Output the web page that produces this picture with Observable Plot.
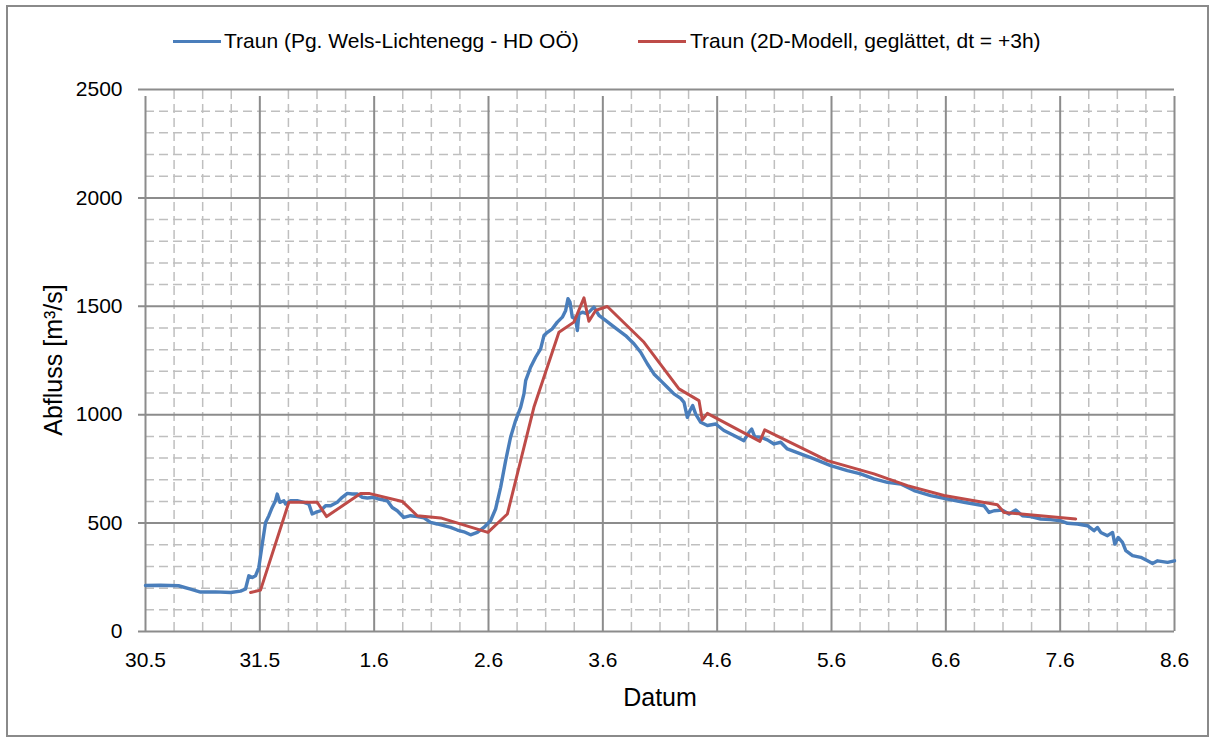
<!DOCTYPE html>
<html>
<head>
<meta charset="utf-8">
<script src="https://cdn.jsdelivr.net/npm/d3@7"></script>
<script src="https://cdn.jsdelivr.net/npm/@observablehq/plot@0.6"></script>
<style>
  html, body { margin: 0; padding: 0; background: #fff; }
  #wrap { position: relative; width: 1213px; height: 740px; font-family: "Liberation Sans", Arial, sans-serif; color: #000; overflow: hidden; }
  #frame { position: absolute; left: 6px; top: 5px; width: 1199px; height: 728px; border: 2px solid #8a8a8a; }
  .lg-line { position: absolute; height: 3px; width: 48px; }
  .lg-text { position: absolute; font-size: 21px; line-height: 24px; white-space: nowrap; }
  #chart { position: absolute; left: 0; top: 70px; }
  #chart svg text { font-family: "Liberation Sans", Arial, sans-serif; font-size: 21px; fill: #000; }
  .title { position: absolute; font-size: 25px; white-space: nowrap; transform: translate(-50%, -50%); }
  #ytitle { left: 53px; top: 360px; transform: translate(-50%, -50%) rotate(-90deg); }
  #xtitle { left: 660px; top: 697px; }
</style>
</head>
<body>
<div id="wrap">
  <div id="frame"></div>
  <div class="lg-line" style="left:173px; top:40px; background:#4a7ebb;"></div>
  <div class="lg-text" id="lg1" style="left:224px; top:29px;"></div>
  <div class="lg-line" style="left:638px; top:40px; background:#be4b48;"></div>
  <div class="lg-text" id="lg2" style="left:690px; top:29px;"></div>
  <div id="chart"></div>
  <div class="title" id="ytitle"></div>
  <div class="title" id="xtitle"></div>
</div>
<script>
// ---- Texts ----
const seriesNames = ["Traun (Pg. Wels-Lichtenegg - HD OÖ)", "Traun (2D-Modell, geglättet, dt = +3h)"];
const yTitle = "Abfluss [m³/s]";
const xTitle = "Datum";

// ---- Tick labels (x = days since 30.5 00:00) ----
const dayLabels = ["30.5", "31.5", "1.6", "2.6", "3.6", "4.6", "5.6", "6.6", "7.6", "8.6"];
const yTicks = [0, 500, 1000, 1500, 2000, 2500];

// ---- Measured series (blue) ----
const messDay = [0.000,0.131,0.289,0.394,0.481,0.612,0.744,0.831,0.875,0.904,
  0.934,0.962,0.991,1.021,1.050,1.079,1.108,1.137,1.152,1.175,
  1.210,1.225,1.269,1.327,1.385,1.429,1.458,1.487,1.531,1.575,
  1.619,1.677,1.721,1.765,1.808,1.852,1.896,1.940,1.997,2.041,
  2.115,2.158,2.202,2.260,2.318,2.377,2.435,2.493,2.552,2.610,
  2.668,2.727,2.785,2.843,2.902,2.960,3.018,3.062,3.106,3.150,
  3.193,3.237,3.281,3.310,3.325,3.368,3.412,3.456,3.485,3.515,
  3.558,3.602,3.646,3.675,3.695,3.713,3.733,3.762,3.777,3.791,
  3.821,3.864,3.922,3.966,4.024,4.083,4.141,4.199,4.272,4.331,
  4.389,4.447,4.506,4.564,4.622,4.681,4.710,4.739,4.762,4.786,
  4.812,4.856,4.914,4.987,5.059,5.147,5.234,5.278,5.302,5.328,
  5.381,5.439,5.497,5.556,5.614,5.730,5.847,5.993,6.139,6.255,
  6.372,6.489,6.605,6.722,6.868,7.014,7.159,7.334,7.378,7.422,
  7.495,7.553,7.612,7.670,7.743,7.830,7.918,8.005,8.064,8.151,
  8.239,8.296,8.326,8.355,8.414,8.458,8.478,8.507,8.545,8.574,
  8.633,8.705,8.764,8.808,8.852,8.939,9.000];
const messQ = [212,213,211,195,182,183,180,186,196,257,
  249,257,295,403,503,534,572,603,634,596,
  603,588,603,603,596,588,542,549,557,580,
  580,596,619,637,634,634,619,616,619,611,
  603,572,557,526,534,530,524,503,496,488,
  480,468,460,446,457,480,511,565,665,788,
  896,973,1034,1096,1157,1219,1265,1304,1365,1380,
  1396,1427,1450,1481,1535,1519,1450,1442,1388,1465,
  1473,1465,1496,1458,1435,1411,1388,1365,1327,1288,
  1235,1188,1157,1127,1096,1075,1057,988,1019,1042,
  1003,965,950,957,927,904,880,919,934,899,
  896,884,865,873,842,819,796,765,742,727,
  704,688,680,650,627,611,596,580,549,557,
  560,542,560,534,530,519,516,511,499,496,
  488,465,480,457,442,457,403,434,411,373,
  350,342,326,314,326,319,326];

// ---- Model series (red) ----
const modDay = [0.919,1.006,1.254,1.502,1.584,1.881,1.954,2.246,2.377,2.581,
  2.995,3.165,3.397,3.616,3.747,3.835,3.878,3.937,4.039,4.360,
  4.666,4.841,4.870,4.914,5.374,5.416,5.964,6.372,6.664,6.984,
  7.451,7.509,8.136];
const modQ = [180,191,596,596,530,637,637,600,534,524,
  457,542,1034,1380,1427,1539,1431,1481,1499,1334,
  1119,1065,976,1006,877,930,788,727,673,627,
  585,549,519];

const mess = messDay.map((d, i) => ({day: d, q: messQ[i]}));
const mod = modDay.map((d, i) => ({day: d, q: modQ[i]}));

const majorX = d3.range(dayLabels.length);
const minorX = d3.range(0, 36).map(i => i / 4).filter(v => v % 1 !== 0);
const minorY = d3.range(1, 25).map(i => i * 100).filter(v => v % 500 !== 0);

document.getElementById("lg1").textContent = seriesNames[0];
document.getElementById("lg2").textContent = seriesNames[1];
document.getElementById("ytitle").textContent = yTitle;
document.getElementById("xtitle").textContent = xTitle;

const chart = Plot.plot({
  width: 1213,
  height: 670,
  marginTop: 19,
  marginBottom: 109,
  marginLeft: 145,
  marginRight: 39,
  style: {fontFamily: "Liberation Sans, Arial, sans-serif", fontSize: "21px", background: "transparent", overflow: "visible"},
  x: {domain: [0, 9], ticks: majorX, tickFormat: i => dayLabels[i], tickSize: 0, tickPadding: 21, label: null},
  y: {domain: [0, 2500], ticks: yTicks, tickFormat: v => String(v), tickSize: 0, tickPadding: 23, label: null},
  marks: [
    Plot.ruleY(minorY, {x1: 0, x2: 9, stroke: "#bfbfbf", strokeWidth: 1.5, strokeDasharray: "9,5"}),
    Plot.ruleX(minorX, {y1: 0, y2: 2500, stroke: "#bfbfbf", strokeWidth: 1.5, strokeDasharray: "9,5"}),
    Plot.ruleY(yTicks, {x1: 0, x2: 9, insetLeft: -7, stroke: "#8c8c8c", strokeWidth: 2}),
    Plot.ruleX(majorX, {y1: 0, y2: 2500, insetBottom: -7, stroke: "#8c8c8c", strokeWidth: 2}),
    Plot.line(mess, {x: "day", y: "q", stroke: "#4a7ebb", strokeWidth: 3.4, strokeLinejoin: "round"}),
    Plot.line(mod, {x: "day", y: "q", stroke: "#be4b48", strokeWidth: 3, strokeLinejoin: "round"})
  ]
});
document.getElementById("chart").appendChild(chart);
</script>
</body>
</html>
